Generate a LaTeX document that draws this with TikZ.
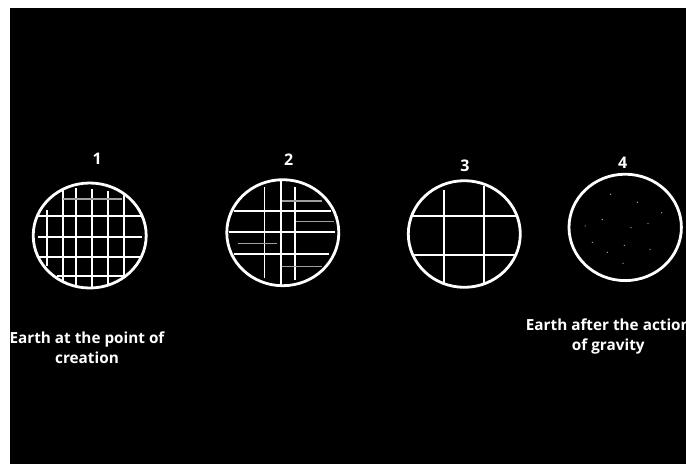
\documentclass[tikz,border=0pt]{standalone}
\usepackage{fontspec}
\setmainfont{Open Sans}
\usepackage{tikz}

\begin{document}
\begin{tikzpicture}[x=1pt, y=-1pt,
  rim/.style={draw=white, line width=2.8pt},
  grid/.style={white, line width=1.8pt},
  faint/.style={gray!75, line width=1.2pt},
  speck/.style={fill=gray!70},
  num/.style={text=white, font=\bfseries\fontsize{16}{18}\selectfont},
  caption/.style={text=white, align=center, inner sep=0pt,
    font=\bfseries\fontsize{15.3}{20}\selectfont}
]
\useasboundingbox (0,0) rectangle (686,464);
\fill[white] (0,0) rectangle (686,464);
\fill[black] (10,8) rectangle (686,464);

% stage 1: fine grid
\begin{scope}
  \clip (89.7,235.5) ellipse [x radius=56.5, y radius=52.5];
  \draw[grid] (47,210) -- (47,266);
  \draw[grid] (63,170) -- (63,300);
  \draw[grid] (76,188) -- (76,300);
  \draw[grid] (92,189) -- (92,300);
  \draw[grid] (108,191) -- (108,300);
  \draw[grid] (124,170) -- (124,300);
  \draw[faint] (63,199) -- (122,199);
  \draw[grid] (20,216) -- (160,216);
  \draw[grid] (38,237) -- (142,237);
  \draw[grid] (20,257) -- (160,257);
  \draw[grid] (57,276) -- (127,276);
\end{scope}
\draw[rim] (89.7,235.5) ellipse [x radius=56.5, y radius=52.5];

% stage 2: broken grid
\begin{scope}
  \clip (282.8,232.7) ellipse [x radius=56, y radius=53];
  \draw[grid] (264.5,187) -- (264.5,278);
  \draw[grid] (281,170) -- (281,300);
  \draw[grid] (295.3,187) -- (295.3,280);
  \draw[faint] (282,201) -- (322,201);
  \draw[grid] (233.5,211) -- (331,211);
  \draw[faint] (296,221.7) -- (334,221.7);
  \draw[grid] (228.5,232) -- (335,232);
  \draw[faint] (237.5,243.7) -- (277,243.7);
  \draw[grid] (233.5,254.2) -- (329,254.2);
  \draw[faint] (282,266.2) -- (322,266.2);
\end{scope}
\draw[rim] (282.8,232.7) ellipse [x radius=56, y radius=53];

% stage 3: coarse grid
\begin{scope}
  \clip (464.3,234) ellipse [x radius=56, y radius=53.3];
  \draw[grid] (444.3,189.7) -- (444.3,300);
  \draw[grid] (484,186) -- (484,300);
  \draw[grid] (400,215.7) -- (530,215.7);
  \draw[grid] (400,254.7) -- (530,254.7);
\end{scope}
\draw[rim] (464.3,234) ellipse [x radius=56, y radius=53.3];

% stage 4: specks only
\draw[rim] (625.2,227.4) ellipse [x radius=56.2, y radius=53.2];
\foreach \px/\py in {610.7/194.3, 637.3/202.3, 661.7/212.7, 602.3/219.5,
    648/223.5, 585.2/226, 631/227.7, 592.3/242.3, 624.3/245.3,
    650/249.3, 607.3/252.3, 623/263.3}
  \fill[speck] (\px,\py) circle [radius=0.7];

% numbers
\node[num] (one) at (97.3,159) {1};
\node[num] (two) at (288.7,160) {2};
\node[num] (three) at (465,166) {3};
\node[num] (four) at (622.7,162.7) {4};

% captions
\node[caption] (start) at (87,348) {Earth at the point of\\creation};
\node[caption] (end) at (608.3,336.7) {Earth after the action\\of gravity};
\end{tikzpicture}
\end{document}
